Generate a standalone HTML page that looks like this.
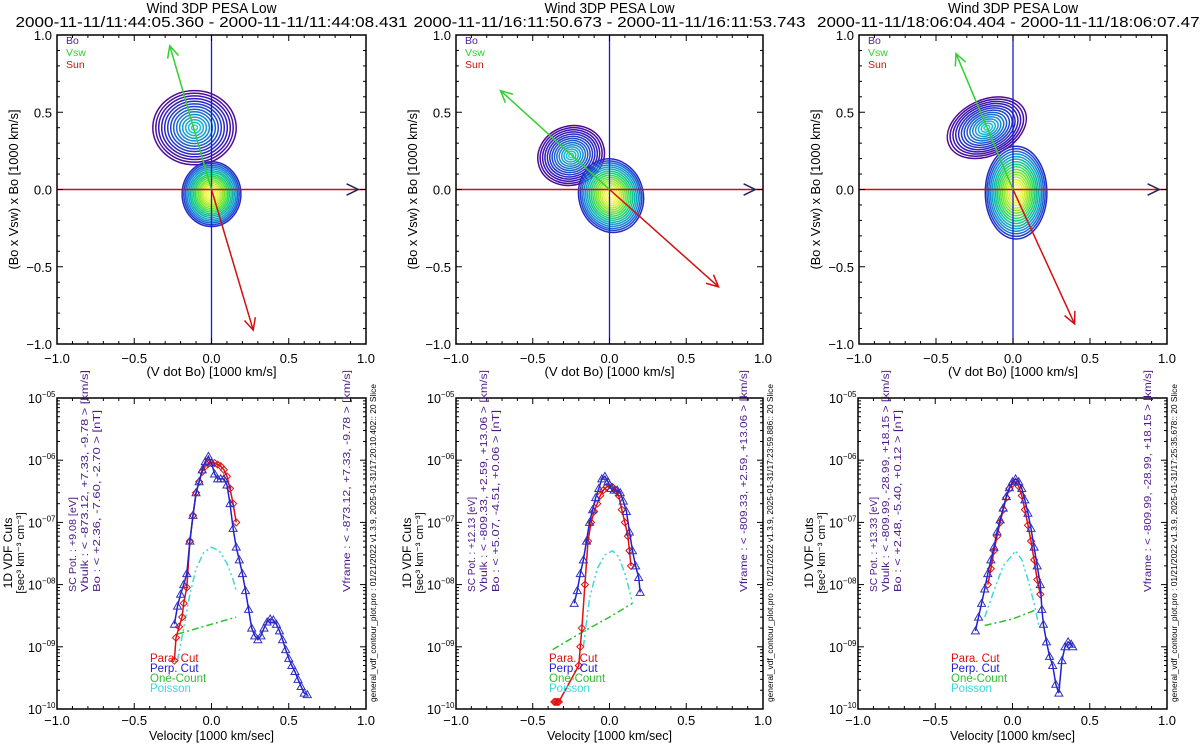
<!DOCTYPE html>
<html><head><meta charset="utf-8"><style>
html,body{margin:0;padding:0;background:#fff;}
svg{display:block;font-family:"Liberation Sans",sans-serif;}
</style></head><body>
<svg id="fig" width="1200" height="747" viewBox="0 0 1200 747" xmlns="http://www.w3.org/2000/svg"></svg>
<script>
// ---------- data ----------
const titleTimes = ["2000-11-11/11:44:05.360 - 2000-11-11/11:44:08.431","2000-11-11/16:11:50.673 - 2000-11-11/16:11:53.743","2000-11-11/18:06:04.404 - 2000-11-11/18:06:07.474"];
const vswVec = [[-0.27,0.93],[-0.71,0.64],[-0.37,0.88]];
const sunVec = [[0.27,-0.91],[0.71,-0.63],[0.40,-0.87]];
const boVec = [[0.95,0],[0.95,0],[0.95,0]];
const beamBlob = [[-0.11,0.40,0.27,0.24,0],[-0.25,0.22,0.22,0.19,-20],[-0.17,0.40,0.27,0.18,-25]];
const coreBlob = [[0.00,-0.03,0.19,0.21,0],[0.01,-0.04,0.21,0.24,-15],[0.02,-0.02,0.20,0.30,0]];
const scPot = ["+9.08","+12.13","+13.33"];
const vbulk = ["< -873.12,    +7.33,    -9.78 >","< -809.33,    +2.59,   +13.06 >","< -809.99,   -28.99,   +18.15 >"];
const bo = ["< +2.36, -7.60, -2.70 >","< +5.07, -4.51, +0.06 >","< +2.48, -5.40, +0.12 >"];
const stamp = ["2025-01-31/17:20:10.402","2025-01-31/17:23:59.886","2025-01-31/17:25:35.678"];

const paraV0 = [-0.24,-0.23,-0.21,-0.19,-0.18,-0.16,-0.14,-0.12,-0.10,-0.08,-0.06,-0.04,-0.02,0,0.02,0.04,0.06,0.08,0.10,0.12,0.14,0.16];
const paraF0 = [6e-10,1.4e-9,2.1e-9,3e-9,5e-9,9e-9,5e-8,1.3e-7,3e-7,4.5e-7,6.5e-7,8e-7,8.8e-7,9e-7,9e-7,8.5e-7,8e-7,7e-7,5.5e-7,3.5e-7,2e-7,1e-7];
const perpV0 = [-0.24,-0.22,-0.20,-0.18,-0.16,-0.14,-0.12,-0.10,-0.08,-0.06,-0.04,-0.02,0,0.02,0.04,0.06,0.08,0.10,0.12,0.14,0.16,0.18,0.20,0.22,0.24,0.26,0.28,0.30,0.32,0.34,0.36,0.38,0.40,0.42,0.44,0.46,0.48,0.50,0.52,0.54,0.56,0.58,0.60,0.62];
const perpF0 = [2.3e-9,4.5e-9,7e-9,1e-8,1.5e-8,5e-8,1.3e-7,3e-7,4.5e-7,7e-7,9.5e-7,1.15e-6,9e-7,6e-7,5e-7,5e-7,5e-7,4e-7,2e-7,8e-8,4e-8,2.5e-8,1.5e-8,8e-9,4e-9,2e-9,1.5e-9,1.3e-9,1.5e-9,2e-9,2.5e-9,2.8e-9,2.7e-9,2.3e-9,1.8e-9,1.3e-9,9e-10,6.5e-10,5e-10,4e-10,3e-10,2.3e-10,1.8e-10,1.7e-10];
const poisV0 = [-0.22,-0.18,-0.14,-0.10,-0.05,0,0.05,0.10,0.14,0.16];
const poisF0 = [6e-10,2e-9,7e-9,1.8e-8,3.3e-8,4e-8,3.5e-8,2.2e-8,1.2e-8,8e-9];
const oneV0 = [-0.22,0.16];
const oneF0 = [1.6e-9,3e-9];

const paraV1 = [-0.36,-0.35,-0.34,-0.33,-0.20,-0.19,-0.18,-0.16,-0.14,-0.12,-0.10,-0.08,-0.06,-0.04,-0.02,0,0.02,0.04,0.06,0.08,0.10,0.12,0.13,0.14];
const paraF1 = [1.3e-10,1.3e-10,1.3e-10,1.3e-10,5e-10,1e-9,2e-9,1e-8,5e-8,1e-7,1.5e-7,2e-7,2.7e-7,3.3e-7,3.7e-7,4e-7,3.7e-7,3.3e-7,2.7e-7,1.6e-7,1e-7,6e-8,3.5e-8,2e-8];
const perpV1 = [-0.23,-0.21,-0.19,-0.17,-0.15,-0.13,-0.11,-0.09,-0.07,-0.05,-0.03,-0.01,0.01,0.03,0.05,0.07,0.09,0.11,0.13,0.15,0.17,0.19,0.20];
const perpF1 = [5e-9,8e-9,1.5e-8,2.5e-8,5e-8,1e-7,1.6e-7,2.5e-7,3.5e-7,5e-7,5.5e-7,4.5e-7,3.5e-7,3.3e-7,3.3e-7,3e-7,2.2e-7,1.5e-7,7e-8,3.5e-8,2e-8,1.3e-8,7.5e-9];
const poisV1 = [-0.17,-0.13,-0.08,-0.03,0.02,0.06,0.10,0.13,0.15];
const poisF1 = [1e-9,6e-9,1.8e-8,3e-8,3.5e-8,2.8e-8,1.5e-8,8e-9,5e-9];
const oneV1 = [-0.37,-0.20,0,0.15];
const oneF1 = [9e-10,1.6e-9,3e-9,5e-9];

const paraV2 = [-0.16,-0.14,-0.12,-0.10,-0.08,-0.06,-0.04,-0.02,0,0.02,0.04,0.06,0.08,0.10,0.12,0.14,0.16,0.18];
const paraF2 = [1e-8,1.8e-8,3.5e-8,6e-8,1e-7,1.6e-7,2.5e-7,3.5e-7,4.2e-7,4.5e-7,3.8e-7,2.7e-7,1.6e-7,9e-8,5e-8,2.5e-8,1.2e-8,7e-9];
const perpV2 = [-0.24,-0.22,-0.20,-0.18,-0.16,-0.14,-0.12,-0.10,-0.08,-0.06,-0.04,-0.02,0,0.02,0.04,0.06,0.08,0.10,0.12,0.14,0.16,0.18,0.19,0.20,0.22,0.24,0.26,0.28,0.30,0.32,0.34,0.36,0.38,0.39];
const perpF2 = [1.8e-9,3e-9,5e-9,8.5e-9,1.5e-8,2.5e-8,4e-8,7e-8,1.1e-7,1.7e-7,2.6e-7,3.6e-7,4.5e-7,5e-7,4.5e-7,3.5e-7,2.3e-7,1.4e-7,8e-8,4e-8,2e-8,1e-8,4e-9,2.3e-9,1.2e-9,7e-10,5e-10,2.5e-10,1.8e-10,6e-10,1e-9,1.2e-9,1.1e-9,1e-9];
const poisV2 = [-0.18,-0.12,-0.06,0,0.02,0.06,0.10,0.14,0.17];
const poisF2 = [3e-9,8e-9,2e-8,3e-8,3.5e-8,2.5e-8,1.2e-8,5e-9,2.2e-9];
const oneV2 = [-0.18,0,0.16];
const oneF2 = [2.2e-9,2.8e-9,4e-9];

const paraV = [paraV0,paraV1,paraV2], paraF = [paraF0,paraF1,paraF2];
const perpV = [perpV0,perpV1,perpV2], perpF = [perpF0,perpF1,perpF2];
const poisV = [poisV0,poisV1,poisV2], poisF = [poisF0,poisF1,poisF2];
const oneV = [oneV0,oneV1,oneV2], oneF = [oneF0,oneF1,oneF2];
const linTicks = [-1.0,-0.5,0.0,0.5,1.0];
const linTickLabels = ["\u22121.0","\u22120.5","0.0","0.5","1.0"];
const logTicks = [-5,-6,-7,-8,-9,-10];

// ---------- layout ----------
const topBox = [[57,366],[456,763],[859,1167]];
const botBox = [[57,366],[456,763],[858,1167]];
const TY0 = 35, TY1 = 344, BY0 = 398, BY1 = 709;
const NS = "http://www.w3.org/2000/svg";
const svg = document.getElementById('fig');

function mk(tag, attrs, parent){
  const el = document.createElementNS(NS, tag);
  for (const k in attrs) el.setAttribute(k, attrs[k]);
  (parent||svg).appendChild(el);
  return el;
}
function text(x,y,s,size,fill,anchor,rot,name,parent,len){
  const el = mk('text',{x:x,y:y,'font-size':size,fill:fill,'text-anchor':anchor||'start'},parent);
  if (rot) el.setAttribute('transform','rotate('+rot+' '+x+' '+y+')');
  if (len){ el.setAttribute('textLength',len); el.setAttribute('lengthAdjust','spacingAndGlyphs'); }
  
  
  el.setAttribute('xml:space','preserve');
  el.textContent = s;
  return el;
}
function lerpColor(stops, t){
  t=Math.max(0,Math.min(1,t));
  const n=stops.length-1, i=Math.min(n-1,Math.floor(t*n)), f=t*n-i;
  const a=stops[i], b=stops[i+1];
  return 'rgb('+[0,1,2].map(k=>Math.round(a[k]+(b[k]-a[k])*f)).join(',')+')';
}
const beamStops = [[80,10,150],[50,30,190],[30,80,210],[20,150,210],[30,210,210]];
const coreStops = [[40,40,200],[20,150,220],[20,210,120],[120,230,40],[230,240,60],[255,255,120]];

function axesTicks(g, x0,x1,y0,y1, xs, ys, logY){
  mk('rect',{x:x0,y:y0,width:x1-x0,height:y1-y0,fill:'none',stroke:'#000','stroke-width':1.5},g);
  for (let v=-1; v<=1.0001; v+=0.1){
    const X=xs(v), maj=Math.abs(Math.round(v*2)-v*2)<1e-6, L=maj?6:3;
    mk('line',{x1:X,y1:y1,x2:X,y2:y1-L,stroke:'#000','stroke-width':1},g);
    mk('line',{x1:X,y1:y0,x2:X,y2:y0+L,stroke:'#000','stroke-width':1},g);
  }
  if (!logY){
    for (let v=-1; v<=1.0001; v+=0.1){
      const Y=ys(v), maj=Math.abs(Math.round(v*2)-v*2)<1e-6, L=maj?6:3;
      mk('line',{x1:x0,y1:Y,x2:x0+L,y2:Y,stroke:'#000','stroke-width':1},g);
      mk('line',{x1:x1,y1:Y,x2:x1-L,y2:Y,stroke:'#000','stroke-width':1},g);
    }
  } else {
    for (let d=-10; d<-5; d++){
      for (let m=1; m<10; m++){
        const Y=ys(m*Math.pow(10,d)), L=m===1?6:3;
        mk('line',{x1:x0,y1:Y,x2:x0+L,y2:Y,stroke:'#000','stroke-width':1},g);
        mk('line',{x1:x1,y1:Y,x2:x1-L,y2:Y,stroke:'#000','stroke-width':1},g);
      }
    }
  }
}

function polyline(g, V, F, xs, ys, color, dash, name){
  const pts = V.map((v,i)=>xs(v).toFixed(1)+','+ys(F[i]).toFixed(1)).join(' ');
  const el = mk('polyline',{points:pts,fill:'none',stroke:color,'stroke-width':1.5},g);
  if (dash) el.setAttribute('stroke-dasharray',dash);
  
  
  return el;
}

for (let p=0; p<3; p++){
  // ===== top contour panel =====
  const [x0,x1]=topBox[p];
  const gT = mk('g',{});
  
  
  const xs = v => x0 + (v+1)/2*(x1-x0);
  const ys = v => TY1 - (v+1)/2*(TY1-TY0);
  const cx=(x0+x1)/2;
  text(cx,13,'Wind 3DP PESA Low',14.5,'#000','middle',0,'panel-title',gT,130);
  text(cx,27,titleTimes[p],15,'#000','middle',0,'time-range',gT,392);

  const drawBlob=(b,stops,n,nm)=>{
    const g = mk('g',{},gT);
    
    
    for (let i=0;i<n;i++){
      const s=1-i/n;
      mk('ellipse',{cx:xs(b[0]),cy:ys(b[1]),rx:(b[2]*s*(x1-x0)/2).toFixed(1),ry:(b[3]*s*(TY1-TY0)/2).toFixed(1),fill:'none',stroke:lerpColor(stops,i/(n-1)),'stroke-width':1.5,transform:'rotate('+b[4]+' '+xs(b[0])+' '+ys(b[1])+')'},g);
    }
  };
  drawBlob(beamBlob[p],beamStops,14,'beam-contours');
  drawBlob(coreBlob[p],coreStops,18,'core-contours');

  mk('line',{x1:xs(0),y1:TY0,x2:xs(0),y2:TY1,stroke:'#1a1ad0','stroke-width':1.3},gT);
  mk('line',{x1:x0,y1:ys(0),x2:x1,y2:ys(0),stroke:'#d01010','stroke-width':1.6},gT);
  const arrow=(v,color,nm)=>{
    const X=xs(v[0]),Y=ys(v[1]),O=[xs(0),ys(0)];
    const a=Math.atan2(Y-O[1],X-O[0]),h=13,w=0.45;
    const g=mk('g',{},gT);
    
    
    if (nm!=='bo-arrow') mk('line',{x1:O[0],y1:O[1],x2:X,y2:Y,stroke:color,'stroke-width':1.5},g);
    mk('polyline',{points:(X-h*Math.cos(a-w))+','+(Y-h*Math.sin(a-w))+' '+X+','+Y+' '+(X-h*Math.cos(a+w))+','+(Y-h*Math.sin(a+w)),fill:'none',stroke:color,'stroke-width':1.5},g);
  };
  arrow(vswVec[p],'#30d030','vsw-arrow');
  arrow(sunVec[p],'#d01010','sun-arrow');
  arrow(boVec[p],'#202060','bo-arrow');

  axesTicks(gT,x0,x1,TY0,TY1,xs,ys,false);
  linTicks.forEach((v,i)=>{
    text(x0-5,ys(v)+5,linTickLabels[i],13,'#000','end',0,'y-tick-label',gT);
    text(xs(v),363,linTickLabels[i],13,'#000','middle',0,'x-tick-label',gT);
  });
  text(cx,376,'(V dot Bo) [1000 km/s]',13,'#000','middle',0,'x-axis-title',gT,130);
  text(x0-39,ys(0),'(Bo x Vsw) x Bo [1000 km/s]',13,'#000','middle',-90,'y-axis-title',gT,160);
  text(x0+9,44,'Bo',10.5,'#5020a0','start',0,'legend-bo',gT);
  text(x0+9,56,'Vsw',10.5,'#30d030','start',0,'legend-vsw',gT);
  text(x0+9,68,'Sun',10.5,'#d01010','start',0,'legend-sun',gT);

  // ===== bottom cuts panel =====
  const [bx0,bx1]=botBox[p];
  const gB = mk('g',{});
  
  
  const bxs = v => bx0 + (v+1)/2*(bx1-bx0);
  const bys = f => BY0 + (-5 - Math.log10(f))*(BY1-BY0)/5;
  const bcx=(bx0+bx1)/2;

  polyline(gB,oneV[p],oneF[p],bxs,bys,'#30c030','7,3,2,3','one-count-line');
  polyline(gB,poisV[p],poisF[p],bxs,bys,'#40d8d8','7,3,2,3,2,3','poisson-line');
  const pv=paraV[p], pf=paraF[p];
  polyline(gB,pv,pf,bxs,bys,'#e01010','','para-cut-line');
  pv.forEach((v,i)=>{
    const X=bxs(v),Y=bys(pf[i]);
    const d=mk('polygon',{points:X+','+(Y-3.5)+' '+(X+3.5)+','+Y+' '+X+','+(Y+3.5)+' '+(X-3.5)+','+Y,fill:'none',stroke:'#e01010','stroke-width':1},gB);
    
    
  });
  const qv=perpV[p], qf=perpF[p];
  polyline(gB,qv,qf,bxs,bys,'#2020d0','','perp-cut-line');
  qv.forEach((v,i)=>{
    const X=bxs(v),Y=bys(qf[i]);
    const t=mk('polygon',{points:X+','+(Y-4)+' '+(X+4)+','+(Y+3)+' '+(X-4)+','+(Y+3),fill:'none',stroke:'#3030c0','stroke-width':1},gB);
    
    
  });

  axesTicks(gB,bx0,bx1,BY0,BY1,bxs,bys,true);
  logTicks.forEach(d=>{
    const el=text(bx0-29,bys(Math.pow(10,d))+5,'10',12.5,'#000','start',0,'y-tick-label',gB);
    const sp=mk('tspan',{dy:-6,'font-size':8},el);
    sp.textContent='\u2212'+String(-d).padStart(2,'0');
  });
  linTicks.forEach((v,i)=>text(bxs(v),725,linTickLabels[i],13,'#000','middle',0,'x-tick-label',gB));
  text(bcx,740,'Velocity [1000 km/sec]',13,'#000','middle',0,'x-axis-title',gB,125);
  text(bx0-45,553,'1D VDF Cuts',12,'#000','middle',-90,'y-axis-title',gB);
  text(bx0-33,553,'[sec\u00b3 km\u207b\u00b3 cm\u207b\u00b3]',11,'#000','middle',-90,'y-axis-units',gB);

  text(bx0+19,592,'SC Pot.   :   '+scPot[p]+' [eV]',10.5,'#4a1a8a','start',-90,'sc-pot-label',gB,95);
  text(bx0+31,592,'Vbulk     :   '+vbulk[p]+' [km/s]',10.5,'#4a1a8a','start',-90,'vbulk-label',gB,222);
  text(bx0+43,592,'Bo          :   '+bo[p]+' [nT]',10.5,'#4a1a8a','start',-90,'bo-label',gB,182);
  text(bx1-16,592,'Vframe    :   '+vbulk[p]+' [km/s]',10.5,'#4a1a8a','start',-90,'vframe-label',gB,222);
  text(bx1+10,702,'general_vdf_contour_plot.pro : 01/21/2022    v1.3.9, '+stamp[p]+'::  20 Slice',8,'#000','start',-90,'version-stamp',gB,318);

  text(bx0+93,662,'Para. Cut',11.5,'#e01010','start',0,'legend-para',gB);
  text(bx0+93,672,'Perp. Cut',11.5,'#2020d0','start',0,'legend-perp',gB);
  text(bx0+93,682,'One-Count',11.5,'#30c030','start',0,'legend-one-count',gB);
  text(bx0+93,692,'Poisson',11.5,'#40d8d8','start',0,'legend-poisson',gB);
}
</script>
</body></html>
